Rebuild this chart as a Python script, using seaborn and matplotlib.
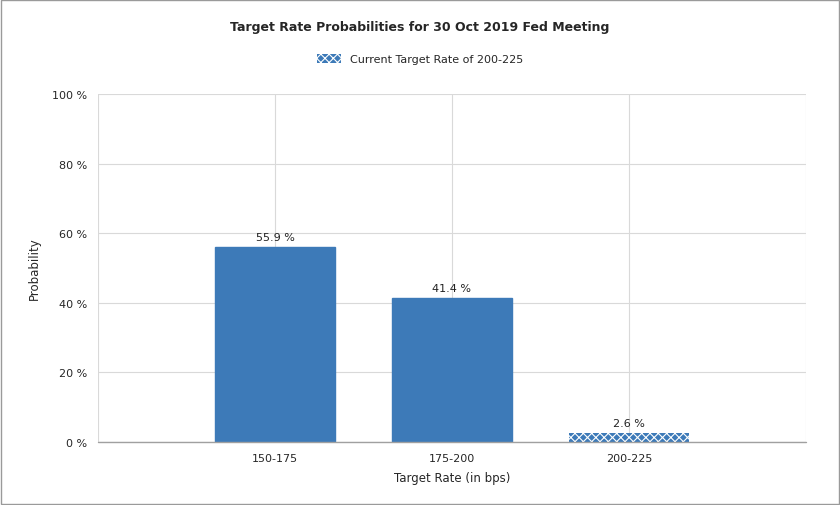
import pandas as pd
import matplotlib.pyplot as plt
import seaborn as sns
from matplotlib.patches import Rectangle, Patch

categories = ["150-175", "175-200", "200-225"]
probabilities = [55.9, 41.4, 2.6]
value_labels = ["55.9 %", "41.4 %", "2.6 %"]
current_rate = "200-225"

df = pd.DataFrame({"rate": categories, "prob": probabilities})

sns.set_style("white")
plt.rcParams["font.family"] = "DejaVu Sans"
plt.rcParams["hatch.linewidth"] = 0.8

fig = plt.figure(figsize=(8.4, 5.06), dpi=100)
ax = fig.add_axes([98 / 840, 1 - 443 / 506, 708 / 840, 348 / 506])

blue = "#3d7ab8"
sns.barplot(data=df, x="rate", y="prob", color=blue, width=0.68,
            saturation=1, ax=ax, zorder=3)
for bar, cat, lab in zip(ax.patches, categories, value_labels):
    bar.set_edgecolor(blue)
    if cat == current_rate:
        bar.set_hatch("xxxx")
        bar.set_edgecolor("white")
        bar.set_linewidth(0)
    ax.text(bar.get_x() + bar.get_width() / 2, bar.get_height() + 1.5, lab,
            ha="center", va="bottom", fontsize=8, color="#222222")

# put categories at 1..3 within a 0..4 span
ax.set_xlim(-1, 3)
ax.set_ylim(0, 100)
ax.set_yticks(range(0, 101, 20))
ax.set_yticklabels([f"{v} %" for v in range(0, 101, 20)], fontsize=8)
ax.set_xticks([-1, 0, 1, 2, 3], minor=True)
ax.tick_params(axis="x", labelsize=8, length=0, pad=8)
ax.tick_params(axis="y", length=0, pad=8)
ax.grid(True, axis="y", color="#d9d9d9", lw=0.8, zorder=0)
ax.grid(True, axis="x", which="both", color="#d9d9d9", lw=0.8, zorder=0)
for s in ax.spines.values():
    s.set_visible(False)
ax.axhline(0, color="#a0a0a0", lw=1, zorder=4, clip_on=False)
ax.set_xlabel("Target Rate (in bps)", fontsize=8.5, labelpad=6)
ax.set_ylabel("Probability", fontsize=8.5, labelpad=8)

fig.text(0.5, 1 - 28 / 506, "Target Rate Probabilities for 30 Oct 2019 Fed Meeting",
         ha="center", va="center", fontsize=9, fontweight="bold")
leg_patch = Patch(facecolor=blue, edgecolor="white", lw=0, hatch="xxxx",
                  label="Current Target Rate of 200-225")
fig.legend(handles=[leg_patch], loc="center", bbox_to_anchor=(0.5, 1 - 60 / 506),
           frameon=False, fontsize=8, handlelength=2.2, handleheight=0.9)

fig.patches.append(Rectangle((0.001, 0.001), 0.998, 0.997, transform=fig.transFigure,
                             fill=False, edgecolor="#9a9a9a", lw=1))

fig.savefig("out.png", dpi=100)
